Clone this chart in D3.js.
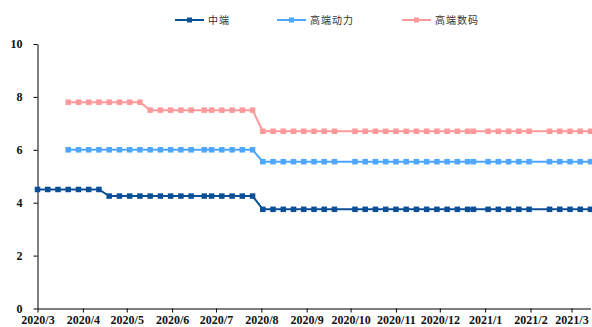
<!DOCTYPE html>
<html>
<head>
<meta charset="utf-8">
<script src="https://cdn.jsdelivr.net/npm/d3@7"></script>
<style>
  html, body { margin: 0; padding: 0; background: #fff; }
  svg { display: block; }
  .axis text { font-family: "Liberation Serif", "Times New Roman", serif; font-weight: bold; font-size: 12px; fill: #111; }
  .axis path, .axis line { stroke: #000; stroke-width: 1; }
  .legend text { font-family: "Noto Sans CJK SC", sans-serif; font-size: 10px; fill: #333; letter-spacing: 1px; }
</style>
</head>
<body>
<svg id="chart" width="592" height="327"></svg>
<script>
// Weekly observation dates
const dates = [
  "2020-03-01","2020-03-08","2020-03-15","2020-03-22","2020-03-29","2020-04-05","2020-04-12",
  "2020-04-19","2020-04-26","2020-05-03","2020-05-10","2020-05-17","2020-05-24","2020-05-31",
  "2020-06-07","2020-06-14","2020-06-23","2020-06-28","2020-07-05","2020-07-12","2020-07-19",
  "2020-07-26","2020-08-02","2020-08-09","2020-08-16","2020-08-23","2020-08-30","2020-09-06",
  "2020-09-13","2020-09-20","2020-10-04","2020-10-11","2020-10-18","2020-10-25","2020-11-01",
  "2020-11-08","2020-11-15","2020-11-22","2020-11-29","2020-12-06","2020-12-13","2020-12-20",
  "2020-12-24","2021-01-03","2021-01-10","2021-01-17","2021-01-24","2021-01-31","2021-02-14",
  "2021-02-21","2021-02-28","2021-03-07","2021-03-14"
];

// 中端
const midRange = [
  4.5,4.5,4.5,4.5,4.5,4.5,4.5,
  4.25,4.25,4.25,4.25,4.25,4.25,4.25,
  4.25,4.25,4.25,4.25,4.25,4.25,4.25,
  4.25,3.75,3.75,3.75,3.75,3.75,3.75,
  3.75,3.75,3.75,3.75,3.75,3.75,3.75,
  3.75,3.75,3.75,3.75,3.75,3.75,3.75,
  3.75,3.75,3.75,3.75,3.75,3.75,3.75,
  3.75,3.75,3.75,3.75
];

// 高端动力
const highPower = [
  null,null,null,6.0,6.0,6.0,6.0,
  6.0,6.0,6.0,6.0,6.0,6.0,6.0,
  6.0,6.0,6.0,6.0,6.0,6.0,6.0,
  6.0,5.55,5.55,5.55,5.55,5.55,5.55,
  5.55,5.55,5.55,5.55,5.55,5.55,5.55,
  5.55,5.55,5.55,5.55,5.55,5.55,5.55,
  5.55,5.55,5.55,5.55,5.55,5.55,5.55,
  5.55,5.55,5.55,5.55
];

// 高端数码
const highDigital = [
  null,null,null,7.8,7.8,7.8,7.8,
  7.8,7.8,7.8,7.8,7.5,7.5,7.5,
  7.5,7.5,7.5,7.5,7.5,7.5,7.5,
  7.5,6.7,6.7,6.7,6.7,6.7,6.7,
  6.7,6.7,6.7,6.7,6.7,6.7,6.7,
  6.7,6.7,6.7,6.7,6.7,6.7,6.7,
  6.7,6.7,6.7,6.7,6.7,6.7,6.7,
  6.7,6.7,6.7,6.7
];

const yTicks = [0, 2, 4, 6, 8, 10];
const seriesNames = ["中端", "高端动力", "高端数码"];
const seriesColors = ["#0b4f96", "#4da6ff", "#ff9999"];

const parse = d3.timeParse("%Y-%m-%d");
const parsedDates = dates.map(parse);
const seriesValues = [midRange, highPower, highDigital];

const svg = d3.select("#chart");
const margin = { left: 37.5, right: 1.5, top: 44, bottom: 18 };
const width = 592, height = 327;

const x = d3.scaleTime()
  .domain([parse("2020-03-01"), parse("2021-03-14")])
  .range([margin.left, width - margin.right]);

const y = d3.scaleLinear()
  .domain([0, 10])
  .range([height - margin.bottom - 0.5, margin.top]);

// Axes
const xAxis = d3.axisBottom(x)
  .ticks(d3.timeMonth.every(1))
  .tickFormat(d3.timeFormat("%Y/%-m"))
  .tickSize(4)
  .tickSizeOuter(0)
  .tickPadding(2.5);

const yAxis = d3.axisLeft(y)
  .tickValues(yTicks)
  .tickSize(4)
  .tickSizeOuter(0)
  .tickPadding(11);

svg.append("g")
  .attr("class", "axis")
  .attr("transform", `translate(0,${y(0)})`)
  .call(xAxis);

svg.append("g")
  .attr("class", "axis")
  .attr("transform", `translate(${margin.left},0)`)
  .call(yAxis);

// Series lines with square markers
const line = d3.line()
  .defined(d => d.v != null)
  .x(d => x(d.date))
  .y(d => y(d.v));

const markerSize = 5.5;

seriesValues.forEach((vals, i) => {
  const pts = parsedDates.map((date, j) => ({ date, v: vals[j] }));
  const g = svg.append("g");
  g.append("path")
    .datum(pts)
    .attr("fill", "none")
    .attr("stroke", seriesColors[i])
    .attr("stroke-width", 2)
    .attr("d", line);
  g.selectAll("rect")
    .data(pts.filter(d => d.v != null))
    .join("rect")
    .attr("x", d => x(d.date) - markerSize / 2)
    .attr("y", d => y(d.v) - markerSize / 2)
    .attr("width", markerSize)
    .attr("height", markerSize)
    .attr("fill", seriesColors[i]);
});

// Legend
const legendX = [175, 277, 402];
const legend = svg.append("g").attr("class", "legend");
seriesNames.forEach((name, i) => {
  const g = legend.append("g").attr("transform", `translate(${legendX[i]},20)`);
  g.append("line")
    .attr("x1", 0).attr("x2", 29)
    .attr("stroke", seriesColors[i])
    .attr("stroke-width", 2);
  g.append("rect")
    .attr("x", 12).attr("y", -2.5)
    .attr("width", 5).attr("height", 5)
    .attr("fill", seriesColors[i]);
  g.append("text")
    .attr("x", 33)
    .attr("dy", "0.35em")
    .text(name);
});
</script>
</body>
</html>
